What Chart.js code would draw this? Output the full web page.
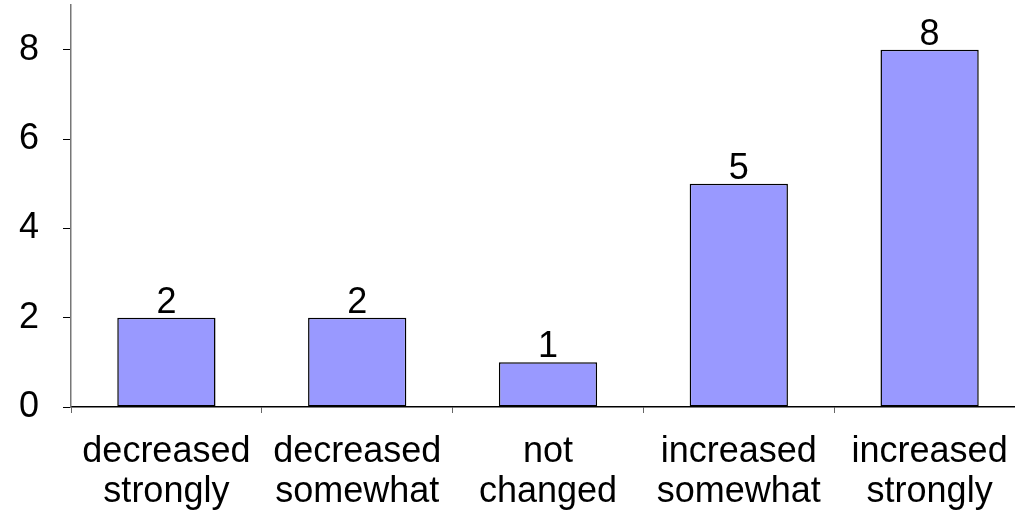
<!DOCTYPE html>
<html>
<head>
<meta charset="utf-8">
<script src="https://cdn.jsdelivr.net/npm/chart.js"></script>
<style>
  html, body { margin: 0; padding: 0; background: #fff; overflow: hidden; }
  #wrap { width: 1025px; height: 517px; }
</style>
</head>
<body>
<div id="wrap"><canvas id="chart"></canvas></div>
<script>
// data
const categories = [
    ['decreased', 'strongly'],
    ['decreased', 'somewhat'],
    ['not', 'changed'],
    ['increased', 'somewhat'],
    ['increased', 'strongly']
];
const counts = [2, 2, 1, 5, 8];
const yTicks = [0, 2, 4, 6, 8];

const FONT = "'Liberation Sans', Arial, sans-serif";

// value labels above each bar
const valueLabels = {
    id: 'valueLabels',
    afterDatasetsDraw(chart) {
        const ctx = chart.ctx;
        const meta = chart.getDatasetMeta(0);
        ctx.save();
        ctx.font = '36px ' + FONT;
        ctx.fillStyle = '#000';
        ctx.textAlign = 'center';
        ctx.textBaseline = 'alphabetic';
        meta.data.forEach(function(bar, i) {
            ctx.fillText(String(counts[i]), bar.x, bar.y - 5);
        });
        ctx.restore();
    }
};

const ctx = document.getElementById('chart').getContext('2d');
new Chart(ctx, {
    type: 'bar',
    data: {
        labels: categories,
        datasets: [{
            data: counts,
            backgroundColor: '#9999FF',
            borderColor: '#000',
            borderWidth: 1.5,
            borderSkipped: false,
            categoryPercentage: 1,
            barPercentage: 0.515
        }]
    },
    options: {
        responsive: true,
        maintainAspectRatio: false,
        animation: false,
        layout: { padding: { top: 5, right: 0, left: 0, bottom: 0 } },
        plugins: {
            legend: { display: false },
            tooltip: { enabled: false }
        },
        scales: {
            x: {
                offset: true,
                grid: {
                    display: true,
                    offset: true,
                    drawOnChartArea: false,
                    drawTicks: true,
                    tickLength: 6,
                    color: '#666'
                },
                border: { display: true, color: '#000', width: 1.5 },
                ticks: {
                    color: '#000',
                    font: { family: FONT, size: 36, lineHeight: 1.12 },
                    padding: 19,
                    maxRotation: 0,
                    autoSkip: false
                },
                afterFit(scale) {
                    scale.height = 110;
                    scale.paddingLeft = 0;
                    scale.paddingRight = 0;
                }
            },
            y: {
                min: 0,
                max: 9,
                grid: {
                    display: true,
                    drawOnChartArea: false,
                    drawTicks: true,
                    tickLength: 8,
                    color: '#000'
                },
                border: { display: true, color: '#777', width: 1.5 },
                ticks: {
                    stepSize: 2,
                    includeBounds: false,
                    color: '#000',
                    font: { family: FONT, size: 36 },
                    padding: 24
                },
                afterBuildTicks(scale) {
                    scale.ticks = yTicks.map(function(v) { return { value: v }; });
                },
                afterFit(scale) {
                    scale.width = 71;
                    scale.paddingTop = 0;
                    scale.paddingBottom = 0;
                }
            }
        }
    },
    plugins: [valueLabels]
});
</script>
</body>
</html>
